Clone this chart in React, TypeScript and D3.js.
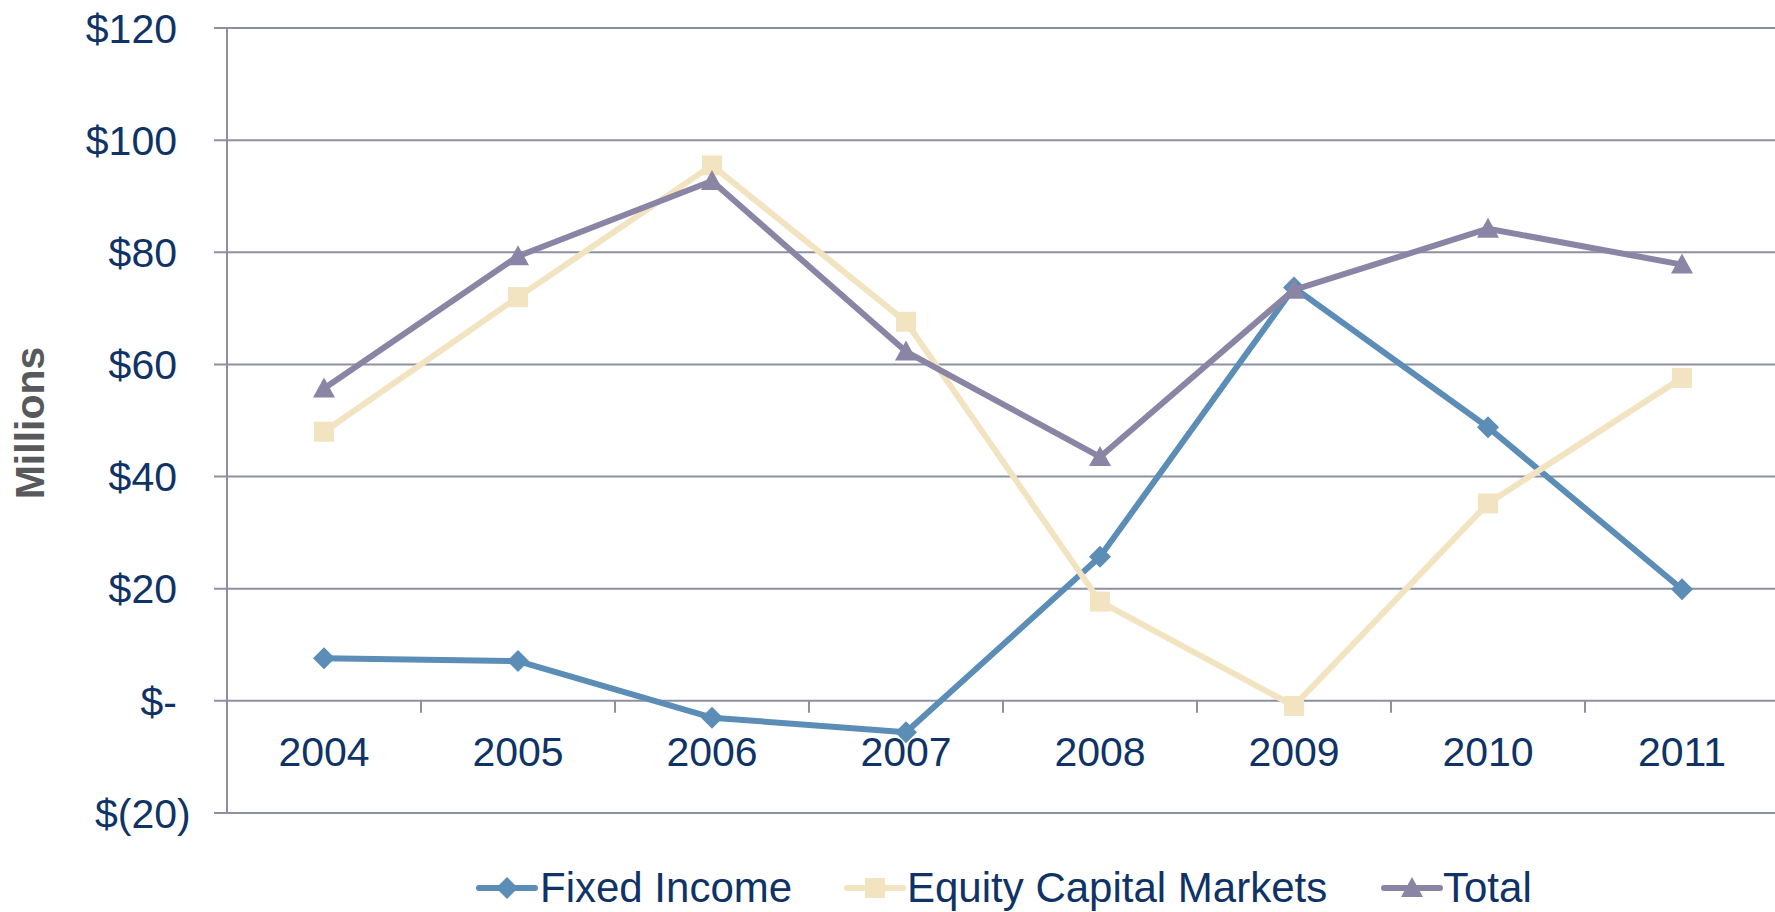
import React from 'react';
import * as d3 from 'd3';

const years = ['2004', '2005', '2006', '2007', '2008', '2009', '2010', '2011'];
const fixedIncome = [7.6, 7.1, -3.0, -5.6, 25.7, 73.7, 48.8, 19.9];
const equityCapitalMarkets = [48.0, 72.0, 95.5, 67.6, 17.7, -0.9, 35.2, 57.6];
const total = [55.7, 79.3, 92.7, 62.3, 43.5, 73.3, 84.2, 77.8];
const yTicks = [-20, 0, 20, 40, 60, 80, 100, 120];

const W = 1775;
const H = 912;
const left = 227;
const right = 1779;
const top = 28;
const bottom = 813;

const gridColor = '#8D90A3';
const textColor = '#0F3366';
const font = 'Liberation Sans, Arial, sans-serif';

const series = [
  { name: 'Fixed Income', values: fixedIncome, color: '#5B8DB6', marker: 'diamond' },
  { name: 'Equity Capital Markets', values: equityCapitalMarkets, color: '#F2E3C1', marker: 'square' },
  { name: 'Total', values: total, color: '#8A85A5', marker: 'triangle' },
];

// accounting style: the closing paren hangs past the digit column
function fmt(v: number) {
  if (v === 0) return '$-';
  if (v < 0) return `$(${-v}`;
  return `$${v}`;
}

function Marker({ type, x, y, color }: { type: string; x: number; y: number; color: string }) {
  if (type === 'diamond') {
    const r = 11;
    return <path d={`M${x},${y - r}L${x + r},${y}L${x},${y + r}L${x - r},${y}Z`} fill={color} />;
  }
  if (type === 'square') {
    const s = 20;
    return <rect x={x - s / 2} y={y - s / 2} width={s} height={s} fill={color} />;
  }
  const r = 11;
  return <path d={`M${x},${y - r}L${x + r},${y + 9}L${x - r},${y + 9}Z`} fill={color} />;
}

export default function App() {
  const x = d3.scaleBand<string>().domain(years).range([left, right]);
  const y = d3.scaleLinear().domain([-20, 120]).range([bottom, top]);
  const cx = (d: string) => (x(d) as number) + x.bandwidth() / 2;

  const line = d3
    .line<number>()
    .x((_, i) => cx(years[i]))
    .y((v) => y(v));

  const legend = [
    { lx: 479, tx: 540 },
    { lx: 847, tx: 907 },
    { lx: 1384, tx: 1443 },
  ];

  return (
    <svg width={W} height={H} style={{ position: 'absolute', left: 0, top: 0, background: '#fff' }} fontFamily={font}>
      {/* gridlines and y ticks */}
      {yTicks.map((t) => (
        <g key={t}>
          <line x1={left - 13} x2={right} y1={y(t)} y2={y(t)} stroke={gridColor} strokeWidth={2} />
          <text x={177} y={y(t)} dy="0.36em" textAnchor="end" fontSize={41} fill={textColor}>
            {fmt(t)}
          </text>
          {t < 0 && (
            <text x={177} y={y(t)} dy="0.36em" fontSize={41} fill={textColor}>
              )
            </text>
          )}
        </g>
      ))}
      <line x1={left} x2={left} y1={top} y2={bottom} stroke={gridColor} strokeWidth={2} />
      {/* x axis ticks at zero line */}
      {years.map((d) => (
        <line
          key={d}
          x1={(x(d) as number) + x.bandwidth()}
          x2={(x(d) as number) + x.bandwidth()}
          y1={y(0)}
          y2={y(0) + 12}
          stroke={gridColor}
          strokeWidth={2}
        />
      ))}
      {years.map((d) => (
        <text key={d} x={cx(d)} y={766} textAnchor="middle" fontSize={41} fill={textColor}>
          {d}
        </text>
      ))}
      <text
        transform={`translate(44,423) rotate(-90)`}
        textAnchor="middle"
        fontSize={41}
        fontWeight="bold"
        fill="#58595B"
      >
        Millions
      </text>
      {/* series */}
      {series.map((s) => (
        <g key={s.name}>
          <path d={line(s.values) as string} fill="none" stroke={s.color} strokeWidth={6} strokeLinejoin="round" />
          {s.values.map((v, i) => (
            <Marker key={i} type={s.marker} x={cx(years[i])} y={y(v)} color={s.color} />
          ))}
        </g>
      ))}
      {/* legend */}
      {series.map((s, i) => (
        <g key={s.name}>
          <line x1={legend[i].lx} x2={legend[i].lx + 56} y1={888} y2={888} stroke={s.color} strokeWidth={6} strokeLinecap="round" />
          <Marker type={s.marker} x={legend[i].lx + 28} y={888} color={s.color} />
          <text x={legend[i].tx} y={902} fontSize={42} fill={textColor}>
            {s.name}
          </text>
        </g>
      ))}
    </svg>
  );
}
